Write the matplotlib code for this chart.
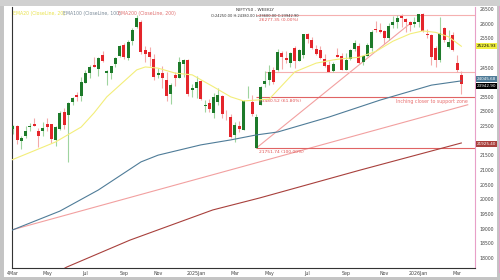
import matplotlib
matplotlib.use("Agg")
import matplotlib.pyplot as plt
from matplotlib.patches import Rectangle
from matplotlib.lines import Line2D

# weekly candles, index 0 = week of 4 Mar 2024
opens = [22403, 22517, 21990, 22171, 22455, 22578, 22339, 22336, 22568, 22561,
         22027, 22404, 22977, 22890, 23319, 23570, 23517, 23987, 24329, 24587,
         24445, 24943, 24303, 24320, 24636, 24907, 25283, 24823, 25406, 25872,
         26061, 25084, 25023, 24798, 24251, 24315, 24087, 23605, 24253, 24140,
         24633, 24753, 23738, 23796, 24045, 23195, 23290, 22940, 23320, 23543,
         22809, 22796, 22194, 22521, 22353, 23515, 23341, 21758, 23207, 23949,
         24070, 24420, 24420, 25005, 24825, 24670, 25160, 24732, 24939, 25661,
         25450, 25135, 25108, 24782, 24600, 24371, 24938, 24899, 24432, 24802,
         25119, 25239, 24691, 24895, 25180, 25800, 25795, 25764, 25503, 25960,
         26060, 26250, 26160, 26050, 25980, 26040, 26330, 25650, 25600, 25170,
         24760, 25850, 25200, 25610, 24650, 24250]
highs = [22526, 22526, 22180, 22516, 22619, 22775, 22427, 22625, 22794, 22588,
         22502, 23026, 23110, 23338, 23490, 23667, 24174, 24401, 24592, 24854,
         24861, 25078, 24419, 24563, 24867, 25268, 25333, 25433, 25849, 26277,
         26134, 25234, 25212, 24978, 24498, 24537, 24336, 23956, 24354, 24857,
         24792, 24781, 23938, 24226, 24089, 23391, 23426, 23633, 23807, 23568,
         23050, 22922, 22633, 22676, 23402, 23869, 23565, 22923, 23872, 24365,
         24589, 24526, 25116, 25062, 25079, 25029, 25223, 25137, 25654, 25669,
         25548, 25255, 25242, 24957, 24734, 24673, 25154, 24980, 24980, 25139,
         25448, 25332, 24904, 25330, 25781, 26104, 26032, 25791, 26010, 26246,
         26310, 26325, 26206, 26090, 26235, 26340, 26370, 25800, 25650, 25250,
         26230, 25900, 25780, 25700, 24930, 24380]
lows = [22224, 21905, 21710, 22080, 22346, 22503, 21777, 22180, 22348, 21932,
        21821, 22382, 22417, 21281, 23210, 23350, 23350, 23960, 24141, 24508,
        24210, 24686, 23893, 24099, 24515, 24858, 24801, 24753, 25285, 25847,
        24966, 24694, 24567, 24074, 24140, 23816, 23350, 23263, 23874, 24140,
        24180, 23538, 23478, 23460, 23380, 22987, 22976, 22787, 23222, 22775,
        22720, 22105, 21965, 22315, 22353, 23451, 22857, 21744, 23207, 23848,
        23897, 23936, 24378, 24462, 24670, 24526, 24473, 24736, 24824, 25331,
        25130, 24918, 24806, 24535, 24337, 24347, 24852, 24405, 24432, 24773,
        25070, 24629, 24587, 24880, 25060, 25718, 25679, 25318, 25449, 25858,
        25843, 25891, 25728, 25740, 25900, 25880, 25720, 25500, 24600, 24520,
        24700, 25380, 25150, 25050, 24350, 23600]
closes = [22493, 22023, 22097, 22327, 22514, 22519, 22147, 22420, 22476, 22055,
          22466, 22957, 22531, 23290, 23465, 23501, 24010, 24323, 24502, 24530,
          24834, 24718, 24367, 24541, 24823, 25236, 24852, 25357, 25791, 26179,
          25015, 24964, 24854, 24181, 24304, 24148, 23533, 23907, 24131, 24678,
          24768, 23588, 23813, 24004, 23432, 23203, 23092, 23508, 23560, 22929,
          22796, 22125, 22553, 22397, 23350, 23519, 22904, 22829, 23852, 24039,
          24347, 24008, 25020, 24853, 24751, 25003, 24719, 25112, 25638, 25461,
          25150, 24968, 24837, 24565, 24363, 24631, 24870, 24427, 24741, 25114,
          25327, 24655, 24894, 25285, 25710, 25795, 25722, 25492, 25910, 26068,
          26202, 26186, 26046, 25966, 26042, 26328, 25750, 25620, 24850, 24760,
          25680, 25440, 25370, 25100, 24420, 23943]

# moving averages (week index, value)
ema20_idx = [-0.2, 10, 16, 19, 22, 29, 31, 34, 38, 42, 47, 51, 54, 57, 60, 66, 71, 75, 77,
             81, 85, 89, 93, 96, 99, 102, 105]
ema20_val = [21350, 21960, 22470, 22950, 23500, 24420, 24520, 24480, 24310, 24250,
             23840, 23500, 23360, 23390, 23420, 24350, 24650, 24760, 24800, 24850,
             25050, 25400, 25650, 25750, 25700, 25550, 25227]
ema100_idx = [-0.2, 11, 20, 30, 34, 44, 51, 57, 62, 74, 86, 98, 105]
ema100_val = [18950, 19600, 20320, 21280, 21510, 21860, 22030, 22200, 22300, 22810,
              23390, 23900, 24045]
ema200_idx = [11.5, 12.6, 27.4, 46.8, 57.8, 81.3, 105]
ema200_val = [17600, 17690, 18610, 19640, 20050, 21000, 21925]

# drawings
trend1 = ([-0.2, 106.5], [18960, 23230])
trend2 = ([57, 93], [21751.74, 26000])
fib_levels = [26277.35, 23480.52, 21751.74]
fib_text = ["26277.35 (0.00%)", "23480.52 (61.80%)", "21751.74 (100.00%)"]
support_level = 24350

xtick_idx = [0, 8, 17, 26, 34, 43, 52, 60, 69, 78, 87, 95, 104]
xtick_lab = ["4Mar", "May", "Jul", "Sep", "Nov", "2025Jan", "Mar", "May", "Jul",
             "Sep", "Nov", "2026Jan", "Mar"]

UP, DOWN = "#1d7a2a", "#e4252b"
UPW, DOWNW = "#9fd49f", "#f4aaaa"

fig = plt.figure(figsize=(5, 2.8), dpi=100)
fig.patch.set_facecolor("white")
# outer window frame
fig.add_artist(Rectangle((0, 0), 1, 1, transform=fig.transFigure, fill=False,
                         edgecolor="#c4c4c4", linewidth=5))
fig.add_artist(Rectangle((0, 274 / 280), 1, 6 / 280, transform=fig.transFigure,
                         facecolor="#d0d0d0", edgecolor="none"))
fig.add_artist(Line2D([498.5 / 500, 498.5 / 500], [8 / 280, 274 / 280],
                      transform=fig.transFigure, color="#e8a0c8", linewidth=0.8))

ax = fig.add_axes([12 / 500, 12 / 280, 463 / 500, 261 / 280])
xmin, xmax = -0.2, 108.2
ax.set_xlim(xmin, xmax)
ax.set_ylim(17659, 26566)

for i in range(len(closes)):
    up = closes[i] >= opens[i]
    ax.vlines(i, lows[i], highs[i], color=UPW if up else DOWNW, linewidth=0.8, zorder=2)
    bottom = min(opens[i], closes[i])
    h = max(abs(closes[i] - opens[i]), 15)
    ax.bar(i, h, bottom=bottom, width=0.7, color=UP if up else DOWN,
           linewidth=0, zorder=3)

ax.plot(ema20_idx, ema20_val, color="#f3ee7a", linewidth=0.8, zorder=4)
ax.plot(ema100_idx, ema100_val, color="#4f7c98", linewidth=0.8, zorder=4)
ax.plot(ema200_idx, ema200_val, color="#a8403c", linewidth=0.8, zorder=4)

ax.plot(*trend1, color="#f2a0a0", linewidth=0.8, zorder=1)
ax.plot(*trend2, color="#f2a0a0", linewidth=0.8, zorder=1)

fib_col = ["#f5b0b0", "#e06464", "#e06464"]
for lev, txt, c in zip(fib_levels, fib_text, fib_col):
    ax.hlines(lev, 57, xmax, color=c, linewidth=0.8, zorder=1)
    ax.text(57.6, lev - 70, txt, fontsize=3.2, color="#e05050", va="top", ha="left")
ax.hlines(support_level, 59, xmax, color="#f5b0b0", linewidth=0.8, zorder=1)
ax.text(106.5, 23420, "Inching closer to support zone", fontsize=3.4, color="#e87070",
        ha="right", va="top")

# legend / title text
ax.text(0.002, 0.985, "EMA20 (CloseLine, 20)", transform=ax.transAxes, fontsize=3.3,
        color="#e8e24a", va="top")
ax.text(0.11, 0.985, "EMA100 (CloseLine, 100)", transform=ax.transAxes, fontsize=3.3,
        color="#7a8a98", va="top")
ax.text(0.228, 0.985, "EMA200 (CloseLine, 200)", transform=ax.transAxes, fontsize=3.3,
        color="#e07070", va="top")
ax.text(0.525, 0.998, "NIFTY50 - WEEKLY", transform=ax.transAxes, fontsize=3.1,
        color="#333333", va="top", ha="center")
ax.text(0.525, 0.974, "O:24250.00 H:24380.00 L:23600.00 C:23942.90",
        transform=ax.transAxes, fontsize=2.6, color="#333333", va="top", ha="center")

yt = list(range(18000, 26501, 500))
ax.set_yticks(yt)
# labels hidden behind the value boxes are left blank
ax.set_yticklabels(["" if v in (22000, 24000, 25000) else str(v) for v in yt])
ax.yaxis.tick_right()
ax.tick_params(axis="y", labelsize=3.3, length=0, pad=3, labelcolor="#444444")
ax.set_xticks(xtick_idx)
ax.set_xticklabels(xtick_lab)
ax.tick_params(axis="x", labelsize=3.4, length=0, pad=2, labelcolor="#444444")
for lab in ax.get_yticklabels():
    lab.set_horizontalalignment("left")

ax.spines["top"].set_visible(False)
ax.spines["left"].set_color("#333333")
ax.spines["bottom"].set_color("#333333")
ax.spines["right"].set_color("#e8a0c8")
for s in ax.spines.values():
    s.set_linewidth(0.8)

# value boxes on the price scale (label position, text, colours)
boxes = [(25226.93, "25226.93", "#f0f040", "black"),
         (24120, "24045.68", "#4f7c98", "white"),
         (23880, "23942.90", "black", "white"),
         (21900, "21925.40", "#a8403c", "white")]
for pos, txt, bg, fg in boxes:
    ax.text(1.004, pos, txt, transform=ax.get_yaxis_transform(), fontsize=3.0,
            color=fg, va="center", ha="left", zorder=6,
            bbox=dict(boxstyle="square,pad=0.2", facecolor=bg, edgecolor="none"))

fig.savefig("out.png", dpi=100)
